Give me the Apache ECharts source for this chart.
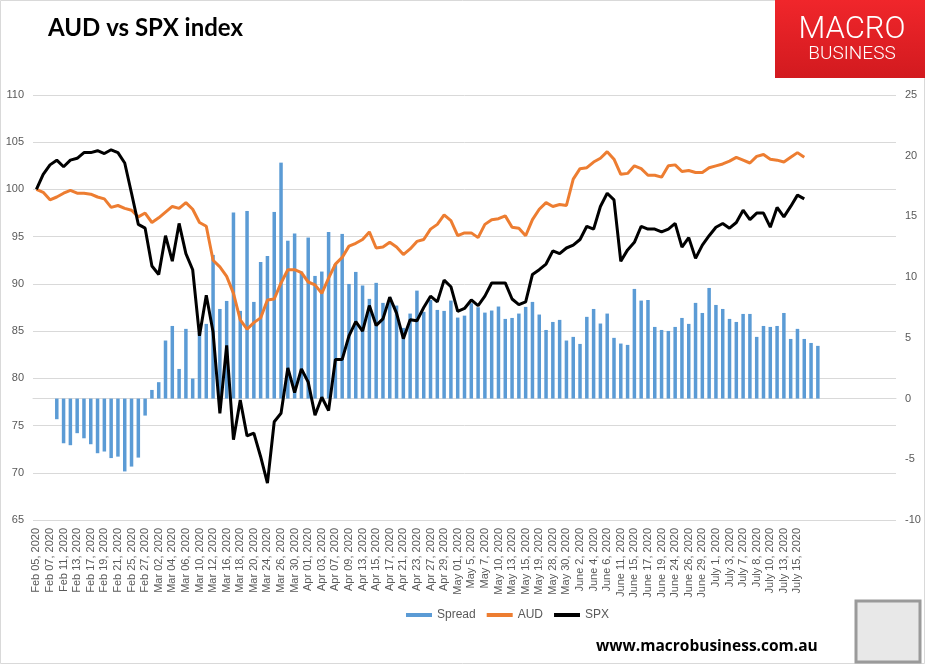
<!DOCTYPE html>
<html>
<head>
	<meta charset="utf-8">
	<title>AUD vs SPX index</title>
	<style>
		html, body {
			margin: 0;
			padding: 0;
			background-color: #fff;
		}
		#chart {
			width: 925px;
			height: 664px;
		}
	</style>
</head>
<body>
	<div id="chart"></div>
<script src="https://cdn.jsdelivr.net/npm/echarts@6/dist/echarts.min.js"></script>
<script>
// 日期 (每隔一个显示)
var dates = [
	'Feb 05, 2020', 'Feb 06, 2020', 'Feb 07, 2020', 'Feb 10, 2020', 'Feb 11, 2020', 'Feb 12, 2020',
	'Feb 13, 2020', 'Feb 14, 2020', 'Feb 17, 2020', 'Feb 18, 2020', 'Feb 19, 2020', 'Feb 20, 2020',
	'Feb 21, 2020', 'Feb 24, 2020', 'Feb 25, 2020', 'Feb 26, 2020', 'Feb 27, 2020', 'Feb 28, 2020',
	'Mar 02, 2020', 'Mar 03, 2020', 'Mar 04, 2020', 'Mar 05, 2020', 'Mar 06, 2020', 'Mar 09, 2020',
	'Mar 10, 2020', 'Mar 11, 2020', 'Mar 12, 2020', 'Mar 13, 2020', 'Mar 16, 2020', 'Mar 17, 2020',
	'Mar 18, 2020', 'Mar 19, 2020', 'Mar 20, 2020', 'Mar 23, 2020', 'Mar 24, 2020', 'Mar 25, 2020',
	'Mar 26, 2020', 'Mar 27, 2020', 'Mar 30, 2020', 'Mar 31, 2020', 'Apr 01, 2020', 'Apr 02, 2020',
	'Apr 03, 2020', 'Apr 06, 2020', 'Apr 07, 2020', 'Apr 08, 2020', 'Apr 09, 2020', 'Apr 10, 2020',
	'Apr 13, 2020', 'Apr 14, 2020', 'Apr 15, 2020', 'Apr 16, 2020', 'Apr 17, 2020', 'Apr 20, 2020',
	'Apr 21, 2020', 'Apr 22, 2020', 'Apr 23, 2020', 'Apr 24, 2020', 'Apr 27, 2020', 'Apr 28, 2020',
	'Apr 29, 2020', 'Apr 30, 2020', 'May 01, 2020', 'May 4, 2020', 'May 5, 2020', 'May 6, 2020',
	'May 7, 2020', 'May 8, 2020', 'May 10, 2020', 'May 12, 2020', 'May 13, 2020', 'May 14, 2020',
	'May 15, 2020', 'May 18, 2020', 'May 19, 2020', 'May 27, 2020', 'May 28, 2020', 'May 29, 2020',
	'May 30, 2020', 'June 1, 2020', 'June 2, 2020', 'June 3, 2020', 'June 4, 2020', 'June 5, 2020',
	'June 6, 2020', 'June 10, 2020', 'June 11, 2020', 'June 12, 2020', 'June 15, 2020', 'June 16, 2020',
	'June 17, 2020', 'June 18, 2020', 'June 19, 2020', 'June 23, 2020', 'June 24, 2020', 'June 25, 2020',
	'June 26, 2020', 'June 27, 2020', 'June 29, 2020', 'June 30, 2020', 'July 1, 2020', 'July 2, 2020',
	'July 3, 2020', 'July 6, 2020', 'July 7, 2020', 'July 7, 2020', 'July 8, 2020', 'July 9, 2020',
	'July 10, 2020', 'July 12, 2020', 'July 13, 2020', 'July 14, 2020', 'July 15, 2020', 'July 16, 2020',
	'', '', '', '', '', '', '', '', '', '', '', '', ''
];

// AUD 指数
var aud = [
	100, 99.7, 98.9, 99.2, 99.6, 99.9, 99.6, 99.6, 99.5, 99.2,
	99.0, 98.1, 98.3, 98.0, 97.8, 97.1, 97.5, 96.5, 97.0, 97.6,
	98.2, 98.0, 98.6, 97.9, 96.5, 96.1, 92.5, 91.8, 90.8, 89.0,
	86.2, 85.2, 85.9, 86.4, 88.3, 88.4, 90.1, 91.5, 91.5, 91.2,
	90.2, 89.9, 89.0, 90.6, 92.1, 92.8, 94.0, 94.3, 94.7, 95.5,
	93.8, 93.9, 94.4, 93.9, 93.1, 93.7, 94.5, 94.7, 95.8, 96.3,
	97.3, 96.7, 95.1, 95.4, 95.4, 94.9, 96.3, 96.8, 96.9, 97.2,
	96.0, 95.9, 95.1, 96.8, 97.9, 98.6, 98.2, 98.4, 98.3, 101.1,
	102.2, 102.3, 102.9, 103.3, 104.0, 103.2, 101.6, 101.7, 102.5, 102.2,
	101.5, 101.5, 101.3, 102.5, 102.6, 101.9, 102.0, 101.8, 101.8, 102.3,
	102.5, 102.7, 103.0, 103.4, 103.1, 102.8, 103.5, 103.7, 103.2, 103.1,
	102.9, 103.4, 103.9, 103.4
];

// SPX 指数
var spx = [
	100, 101.6, 102.6, 103.1, 102.4, 103.1, 103.3, 103.9, 103.9, 104.1,
	103.8, 104.2, 103.9, 102.8, 99.6, 96.3, 95.9, 91.9, 91.0, 95.1,
	92.4, 96.4, 93.2, 91.5, 84.5, 88.8, 84.9, 76.3, 83.5, 73.5,
	77.7, 73.9, 74.2, 71.7, 68.9, 75.4, 76.3, 81.1, 78.5, 81.0,
	79.6, 76.1, 78.0, 76.6, 82.0, 82.0, 84.5, 86.0, 85.0, 87.7,
	85.6, 86.3, 88.6, 86.9, 84.2, 86.2, 86.1, 87.5, 88.7, 88.1,
	90.4, 89.7, 87.1, 87.4, 88.3, 87.7, 88.7, 90.1, 90.1, 90.1,
	88.4, 87.8, 88.1, 91.0, 91.5, 92.1, 93.5, 93.2, 93.8, 94.1,
	94.7, 96.1, 95.8, 98.2, 99.6, 98.9, 92.4, 93.6, 94.4, 96.1,
	95.8, 95.8, 95.5, 95.8, 96.4, 93.9, 94.9, 92.7, 94.1, 95.1,
	96.0, 96.4, 95.9, 96.5, 97.8, 96.8, 97.5, 97.5, 96.0, 98.1,
	97.1, 98.2, 99.4, 99.0
];

// 差值 (右轴)
var spread = [
	null, null, null, -1.7, -3.68, -3.84, -2.85, -3.27, -3.76, -4.5,
	-4.36, -4.9, -4.78, -6.0, -5.6, -4.86, -1.4, 0.71, 1.35, 4.78,
	5.98, 2.44, 5.74, 1.65, 5.4, 6.15, 11.83, 7.38, 8.04, 15.32,
	7.22, 15.45, 7.96, 11.25, 11.75, 15.37, 19.43, 13.0, 13.6, 10.46,
	13.26, 10.1, 10.46, 13.72, 11.09, 13.56, 9.44, 10.43, 9.31, 8.21,
	9.53, 7.88, 8.34, 7.66, 5.82, 7.0, 8.89, 7.14, 8.12, 7.3,
	7.22, 8.07, 6.67, 6.83, 7.85, 7.52, 7.08, 7.25, 7.58, 6.56,
	6.64, 7.0, 7.55, 7.96, 6.92, 5.65, 6.31, 6.48, 4.78, 5.08,
	4.5, 6.73, 7.38, 6.18, 7.0, 5.0, 4.53, 4.42, 9.03, 8.07,
	8.12, 5.9, 5.65, 5.57, 5.9, 6.64, 6.15, 7.88, 7.05, 9.11,
	7.71, 7.38, 6.56, 6.31, 6.97, 6.97, 5.08, 5.98, 5.9, 5.98,
	7.05, 4.91, 5.74, 4.91, 4.58, 4.34
];

var leftTicks = { min: 65, max: 110, step: 5 };
var rightTicks = { min: -10, max: 25, step: 5 };

var labelColor = '#595959';
var gridColor = '#d9d9d9';

var myChart = echarts.init(document.getElementById('chart'), null, { renderer: 'canvas' });

var option = {
	backgroundColor: '#fff',
	animation: false,
	grid: {
		left: 33,
		right: 29,
		top: 95,
		bottom: 144
	},
	legend: {
		left: 401,
		top: 604,
		itemWidth: 26,
		itemHeight: 4,
		itemGap: 11,
		textStyle: {
			color: labelColor,
			fontSize: 12,
			fontFamily: 'Liberation Sans, Arial, sans-serif'
		},
		// 图例都用细长方块，不要圆点
		data: [
			{ name: 'Spread', icon: 'rect' },
			{ name: 'AUD', icon: 'rect' },
			{ name: 'SPX', icon: 'rect' }
		]
	},
	xAxis: {
		type: 'category',
		data: dates,
		boundaryGap: true,
		axisLine: { show: true, lineStyle: { color: gridColor } },
		axisTick: { show: false },
		axisLabel: {
			interval: 1,
			rotate: 90,
			margin: 8,
			color: labelColor,
			fontSize: 11,
			fontFamily: 'Liberation Sans, Arial, sans-serif'
		},
		splitLine: { show: false }
	},
	yAxis: [{
		type: 'value',
		min: leftTicks.min,
		max: leftTicks.max,
		interval: leftTicks.step,
		axisLine: { show: false },
		axisTick: { show: false },
		axisLabel: {
			margin: 9,
			color: labelColor,
			fontSize: 11,
			fontFamily: 'Liberation Sans, Arial, sans-serif'
		},
		splitLine: { lineStyle: { color: gridColor, width: 1 } }
	}, {
		type: 'value',
		min: rightTicks.min,
		max: rightTicks.max,
		interval: rightTicks.step,
		axisLine: { show: false },
		axisTick: { show: false },
		axisLabel: {
			margin: 9,
			color: labelColor,
			fontSize: 11,
			fontFamily: 'Liberation Sans, Arial, sans-serif'
		},
		splitLine: { show: false }
	}],
	series: [{
		name: 'Spread',
		type: 'bar',
		yAxisIndex: 1,
		barWidth: 3.5,
		itemStyle: { color: '#5b9bd5' },
		data: spread
	}, {
		name: 'AUD',
		type: 'line',
		yAxisIndex: 0,
		symbol: 'none',
		lineStyle: { color: '#ed7d31', width: 3 },
		itemStyle: { color: '#ed7d31' },
		data: aud
	}, {
		name: 'SPX',
		type: 'line',
		yAxisIndex: 0,
		symbol: 'none',
		lineStyle: { color: '#000', width: 3 },
		itemStyle: { color: '#000' },
		data: spx
	}],
	graphic: [
		// 外框
		{
			type: 'rect',
			shape: { x: 0.5, y: 0.5, width: 924, height: 663 },
			style: { fill: null, stroke: gridColor, lineWidth: 1 },
			silent: true
		},
		// 标题
		{
			type: 'text',
			left: 48,
			top: 16,
			style: {
				text: 'AUD vs SPX index',
				fill: '#000',
				font: 'bold 24px Lato, sans-serif'
			}
		},
		// logo
		{
			type: 'rect',
			shape: { x: 775, y: 0, width: 150, height: 78 },
			style: {
				fill: new echarts.graphic.LinearGradient(0, 0, 0, 1, [
					{ offset: 0, color: '#f0262b' },
					{ offset: 1, color: '#d21a1f' }
				])
			}
		},
		{
			type: 'text',
			x: 852,
			y: 30,
			style: {
				text: 'MACRO',
				fill: '#fff',
				font: '300 31px Roboto, sans-serif',
				align: 'center',
				verticalAlign: 'middle'
			}
		},
		{
			type: 'text',
			x: 852,
			y: 54,
			style: {
				text: 'BUSINESS',
				fill: '#fff',
				font: '300 19px Roboto, sans-serif',
				align: 'center',
				verticalAlign: 'middle'
			}
		},
		// 网址
		{
			type: 'text',
			x: 596,
			y: 647,
			style: {
				text: 'www.macrobusiness.com.au',
				fill: '#000',
				font: 'bold 15.5px "Open Sans", sans-serif',
				verticalAlign: 'middle'
			}
		},
		// 狼头图位置
		{
			type: 'rect',
			shape: { x: 856, y: 601, width: 64, height: 61 },
			style: { fill: '#e8e8e8', stroke: '#9a9a9a', lineWidth: 3 }
		}
	]
};

myChart.setOption(option);
</script>
</body>
</html>
